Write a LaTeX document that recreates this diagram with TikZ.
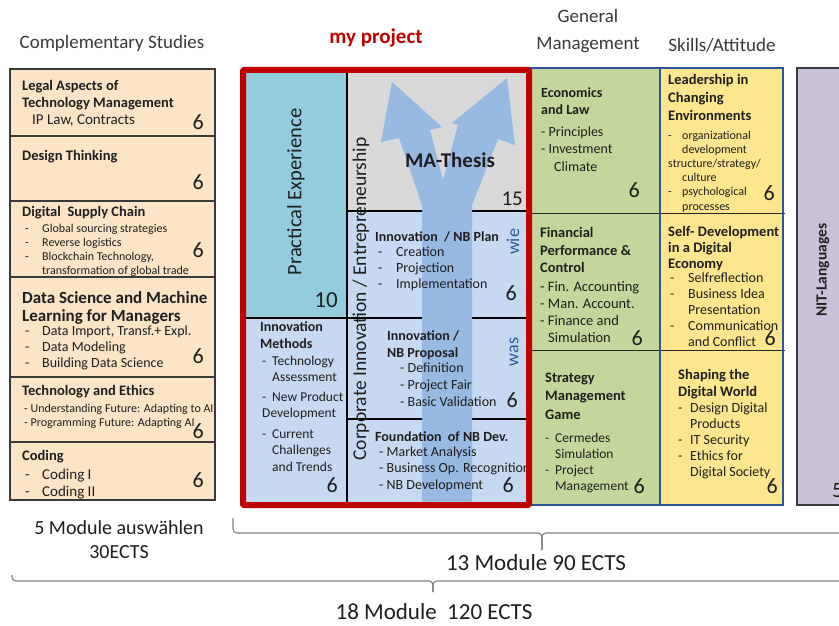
\documentclass[tikz,border=0pt]{standalone}
\usepackage{fontspec}
\setmainfont{Carlito}
\usetikzlibrary{positioning,calc}
\definecolor{cPeach}{HTML}{FCE4C7}
\definecolor{cTeal} {HTML}{93CDDD}
\definecolor{cPale} {HTML}{C6D9F1}
\definecolor{cThes} {HTML}{D9D9D9}
\definecolor{cArrow}{HTML}{98B9E1}
\definecolor{cGreen}{HTML}{C3D69B}
\definecolor{cYell} {HTML}{FDE68D}
\definecolor{cLilac}{HTML}{CCC1DA}
\definecolor{cRed}  {HTML}{C00000}
\definecolor{cNavy} {HTML}{2F5597}
\definecolor{cWord} {HTML}{2E5A9C}
\definecolor{cInk}  {HTML}{1F1F1F}
\definecolor{cHead} {HTML}{3A3A3A}
\definecolor{cBrace}{HTML}{7F7F7F}
\newcommand{\fsz}[2]{\fontsize{#1}{#2}\selectfont}
\newcommand{\itm}[1][10pt]{\makebox[#1][l]{-}}
\tikzset{
  cell/.style={draw=cHead,line width=1.2pt},
  rule/.style={draw=black,line width=1.1pt},
  blk/.style={anchor=north west,align=left,inner sep=0pt,text=cInk},
  ttl/.style={blk,font=\fsz{14.5}{17}\bfseries},
  lst/.style={blk,font=\fsz{14}{16.5}},
  ects/.style={anchor=base east,inner sep=0pt,text=cInk,font=\fsz{22}{22}},
  hdr/.style={inner sep=0pt,align=center,text=cHead,font=\fsz{19}{27}},
  vtxt/.style={inner sep=0pt,rotate=90,text=cInk},
  brc/.style={draw=cBrace,line width=1.1pt,rounded corners=4pt},
}

\begin{document}
\begin{tikzpicture}[x=1pt,y=-1pt]
  \useasboundingbox (0,0) rectangle (839,626);
  \fill[white] (0,0) rectangle (839,626);

  % column heads
  \node[hdr] (hcomp) at (112,43) {Complementary Studies};
  \node[hdr,text=cRed,font=\fsz{21}{21}\bfseries] (hproj) at (376,38) {my project};
  \node[hdr] (hgen) at (588,31) {General\\Management};
  \node[hdr] (hskill) at (722,45) {Skills/Attitude};

  % complementary studies
  \fill[cPeach] (10,69) rectangle (215,500);
  \foreach \ya/\yb in {69/136,136/201,201/277,277/377,377/442,442/500}
    \draw[cell] (10,\ya) rectangle (215,\yb);

  \node[ttl] (legT) at (22,80.5) {Legal Aspects of\\Technology Management};
  \node[lst,font=\fsz{15}{17}] (leg) at (32,114.5) {IP Law, Contracts};
  \node[ects] (leg6) at (204,130) {6};

  \node[ttl] (desT) at (22,150.5) {Design Thinking};
  \node[ects] (des6) at (204,189) {6};

  \node[ttl] (supT) at (22,206.5) {Digital~ Supply Chain};
  \node[lst,font=\fsz{12}{14}] (sup) at (25,223.5)
    {\itm[17pt]Global sourcing strategies\\\itm[17pt]Reverse logistics\\
     \itm[17pt]Blockchain Technology,\\\hspace*{17pt}transformation of global trade};
  \node[ects] (sup6) at (204,257) {6};

  \node[ttl,font=\fsz{17}{18}\bfseries] (datT) at (22,291.5)
    {Data Science and Machine\\Learning for Managers};
  \node[lst,font=\fsz{14}{16}] (dat) at (25,325.5)
    {\itm[17pt]Data Import, Transf.+ Expl.\\\itm[17pt]Data Modeling\\\itm[17pt]Building Data Science};
  \node[ects] (dat6) at (204,363) {6};

  \node[ttl] (ethT) at (22,385.5) {Technology and Ethics};
  \node[lst,font=\fsz{12}{14}] (eth) at (24,403.5)
    {- Understanding Future: Adapting to AI\\- Programming Future: Adapting AI};
  \node[ects] (eth6) at (204,438) {6};

  \node[ttl] (codT) at (22,450.5) {Coding};
  \node[lst,font=\fsz{15}{17}] (cod) at (25,468.5) {\itm[17pt]Coding I\\\itm[17pt]Coding II};
  \node[ects] (cod6) at (204,487) {6};

  % my project cells
  \fill[cTeal] (246,73) rectangle (347,318);
  \fill[cPale] (246,318) rectangle (347,502);
  \fill[cThes] (347,73) rectangle (526,211);
  \fill[cPale] (347,211) rectangle (526,502);
  \draw[rule] (347,73) -- (347,502);
  \draw[rule] (246,318) -- (347,318);
  \foreach \y in {211,318,419}
    \draw[rule] (347,\y) -- (526,\y);

  % forked arrow behind the thesis
  \fill[cArrow] (422,502) -- (422,205) -- (399,138) -- (381,142) -- (392,82)
    -- (442,127) -- (430,130) -- (443,180) -- (458,125) -- (452,123)
    -- (507,78) -- (515,145) -- (498,139) -- (472,205) -- (472,502) -- cycle;

  \node[vtxt,font=\fsz{20.5}{20.5}] (prac) at (296,192) {Practical Experience};
  \node[ects,font=\fsz{23}{23}] (prac10) at (338,307) {10};

  \node[ttl,font=\fsz{14}{17}\bfseries] (methT) at (260,321.5) {Innovation\\Methods};
  \node[lst,font=\fsz{13.5}{16.5}] (meth) at (262,355.5)
    {\itm Technology\\\hspace*{10pt}Assessment\\[3pt]\itm New Product\\Development\\[4pt]
     \itm Current\\\hspace*{10pt}Challenges\\\hspace*{10pt}and Trends};
  \node[ects] (meth6) at (338,492) {6};

  \node[vtxt,font=\fsz{19.5}{19.5}] (corp) at (361,299) {Corporate Innovation / Entrepreneurship};

  \node[inner sep=0pt,text=cInk,font=\fsz{21}{21}\bfseries] (thes) at (450,160) {MA-Thesis};
  \node[ects,font=\fsz{21}{21}] (thes15) at (523,205) {15};

  \node[ttl,font=\fsz{14}{17}\bfseries] (planT) at (375,231.5) {Innovation~ / NB Plan};
  \node[lst,font=\fsz{14}{16}] (plan) at (378,246.5)
    {\itm[18pt]Creation\\\itm[18pt]Projection\\\itm[18pt]Implementation};
  \node[ects] (plan6) at (517,300) {6};
  \node[vtxt,text=cWord,font=\fsz{18}{18}] (wie) at (513,242) {wie};

  \node[ttl,font=\fsz{14}{17}\bfseries] (propT) at (387,330.5) {Innovation /\\NB Proposal};
  \node[lst,font=\fsz{14}{17}] (prop) at (400,362.5)
    {- Definition\\- Project Fair\\- Basic Validation};
  \node[ects] (prop6) at (518,407) {6};
  \node[vtxt,text=cWord,font=\fsz{18}{18}] (was) at (514,352) {was};

  \node[ttl,font=\fsz{14}{17}\bfseries] (fndT) at (375,431.5) {Foundation~ of NB Dev.};
  \node[lst] (fnd) at (379,446.5)
    {- Market Analysis\\- Business Op. Recognition\\- NB Development};
  \node[ects] (fnd6) at (514,492) {6};

  % general management and skills
  \fill[cGreen] (527,68) rectangle (660,505);
  \fill[cYell] (660,68) rectangle (783,505);
  \foreach \y in {213,350}
    \draw[line width=1pt,black!85] (527,\y) -- (785,\y);
  \draw[cNavy,line width=1.5pt] (527,68) rectangle (783,505) (660,68) -- (660,505);

  \node[ttl,font=\fsz{14}{17}\bfseries] (ecoT) at (541,87.5) {Economics\\and Law};
  \node[lst,font=\fsz{14}{17.5}] (eco) at (541,126.5)
    {- Principles\\- Investment\\\hspace*{13pt}Climate};
  \node[ects] (eco6) at (640,197) {6};

  \node[ttl,font=\fsz{14.5}{17.5}\bfseries] (finT) at (540,227.5)
    {Financial\\Performance \&\\Control};
  \node[lst,font=\fsz{14.5}{17}] (fin) at (540,281.5)
    {- Fin. Accounting\\- Man. Account.\\- Finance and\\\hspace*{8pt}Simulation};
  \node[ects] (fin6) at (643,345) {6};

  \node[ttl,font=\fsz{14.5}{18.5}\bfseries] (strT) at (545,372.5)
    {Strategy\\Management\\Game};
  \node[lst,font=\fsz{13.5}{16}] (str) at (545,433)
    {\itm Cermedes\\\hspace*{10pt}Simulation\\\itm Project\\\hspace*{10pt}Management};
  \node[ects] (str6) at (645,493) {6};

  \node[ttl,font=\fsz{14.5}{18}\bfseries] (leaT) at (668,74.5)
    {Leadership in\\Changing\\Environments};
  \node[lst,font=\fsz{12}{14.2}] (lea) at (668,130.5)
    {\itm[14pt]organizational\\\hspace*{14pt}development\\structure/strategy/\\
     \hspace*{14pt}culture\\\itm[14pt]psychological\\\hspace*{14pt}processes};
  \node[ects] (lea6) at (775,200) {6};

  \node[ttl,font=\fsz{14.5}{16}\bfseries] (selT) at (668,226.5)
    {Self- Development\\in a Digital\\Economy};
  \node[lst,font=\fsz{14}{16}] (sel) at (670,272.5)
    {\itm[18pt]Selfreflection\\\itm[18pt]Business Idea\\\hspace*{18pt}Presentation\\
     \itm[18pt]Communication\\\hspace*{18pt}and Conflict};
  \node[ects] (sel6) at (776,345) {6};

  \node[ttl,font=\fsz{14.5}{17}\bfseries] (shpT) at (678,369.5) {Shaping the\\Digital World};
  \node[lst,font=\fsz{14}{16}] (shp) at (678,402.5)
    {\itm[12pt]Design Digital\\\hspace*{12pt}Products\\\itm[12pt]IT Security\\
     \itm[12pt]Ethics for\\\hspace*{12pt}Digital Society};
  \node[ects] (shp6) at (778,493) {6};

  % languages
  \draw[cell,fill=cLilac] (797,68) rectangle (870,505);
  \node[vtxt,font=\fsz{15.5}{15.5}\bfseries] (nit) at (823,270) {NIT-Languages};
  \node[ects,anchor=base west] (nit5) at (832,497) {5};

  % frame round my project
  \draw[cRed,line width=6pt,rounded corners=1pt] (243,70) rectangle (529,505);

  % module counts
  \node[hdr,text=cInk,font=\fsz{20}{24}] (sum5) at (119,540) {5 Module auswählen\\30ECTS};
  \coordinate (u0) at (233,518);
  \coordinate (um) at (542,533);
  \coordinate (ut) at (542,550);
  \coordinate (u1) at (851,518);
  \draw[brc] (u0) |- (um) -- (ut);
  \draw[brc] (ut) -- (um) -| (u1);
  \node[hdr,text=cInk,font=\fsz{23}{23}] (sum13) at (536,563) {13 Module 90 ECTS};

  \coordinate (l0) at (12,575);
  \coordinate (lm) at (433,581);
  \coordinate (lt) at (433,592);
  \coordinate (l1) at (854,575);
  \draw[brc] (l0) |- (lm) -- (lt);
  \draw[brc] (lt) -- (lm) -| (l1);
  \node[hdr,text=cInk,font=\fsz{23}{23}] (sum18) at (434,612) {18 Module~ 120 ECTS};
\end{tikzpicture}
\end{document}
